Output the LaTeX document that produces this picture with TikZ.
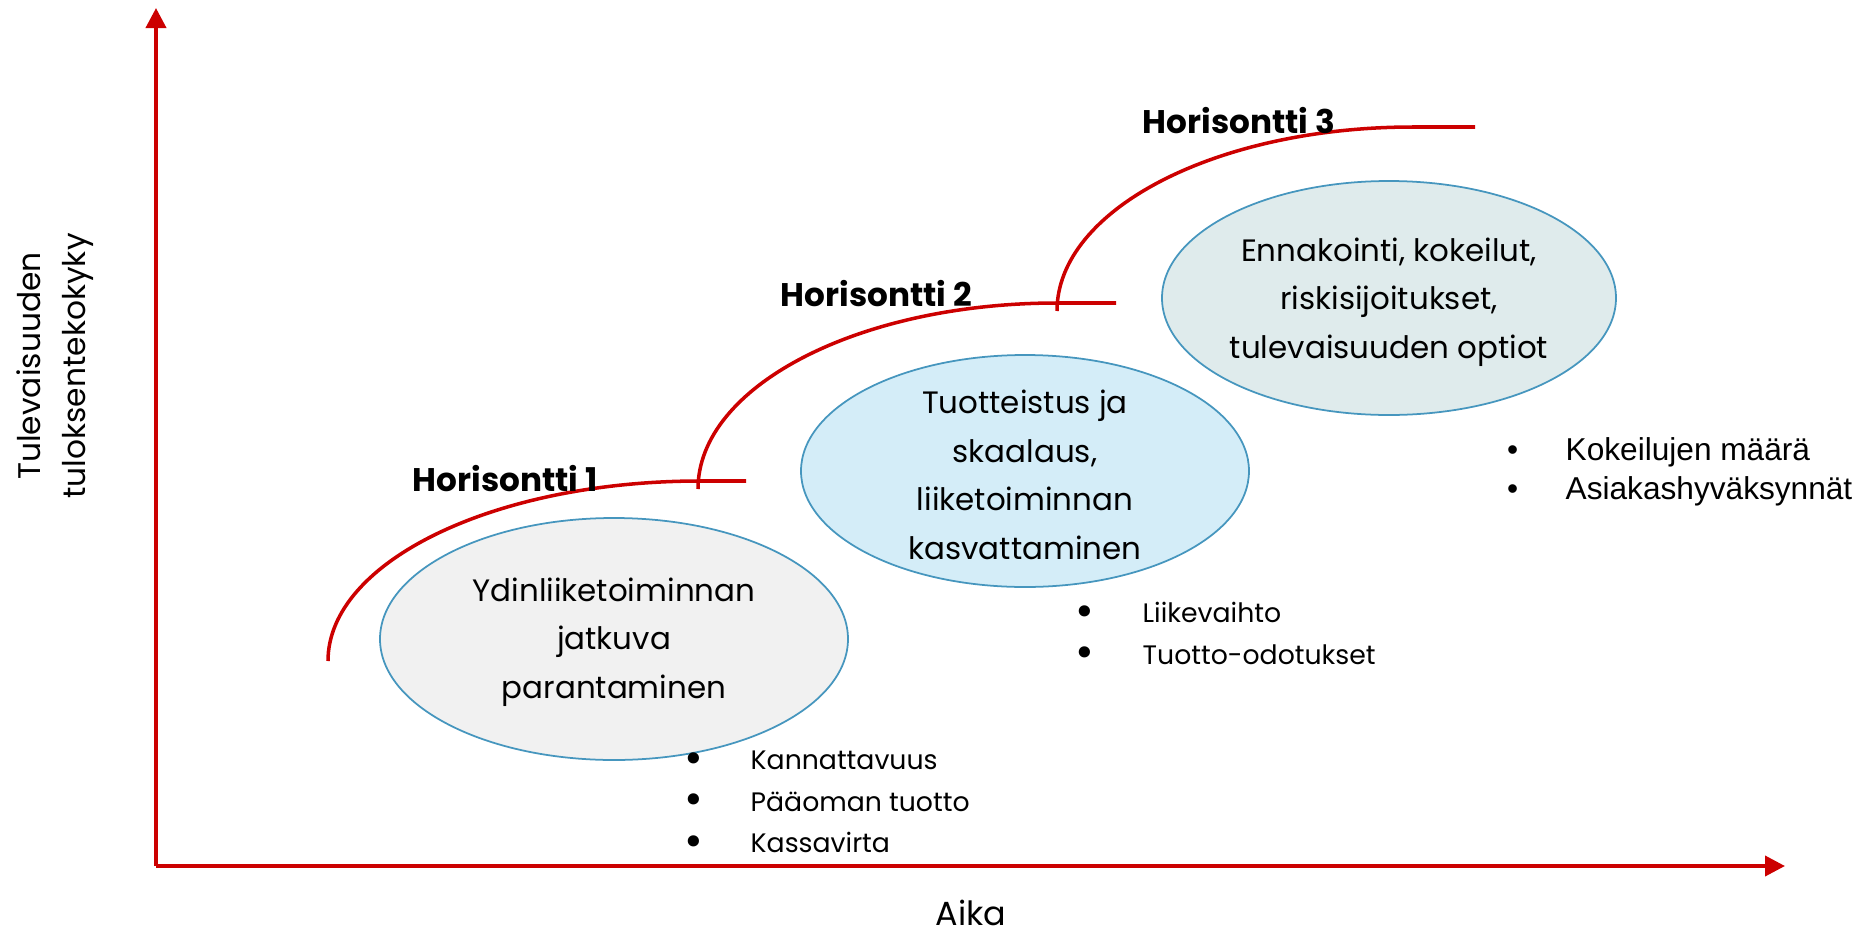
\documentclass[tikz,border=0pt]{standalone}
\usepackage{fontspec}
\setmainfont{Poppins}
\newfontfamily\arialfont{Liberation Sans}
\usepackage{array}
\usepackage{graphicx}
\usepackage{tikz}
\usetikzlibrary{arrows.meta,shapes.geometric}

\definecolor{axisred}{RGB}{204,0,0}
\definecolor{rimblue}{RGB}{70,150,190}
\definecolor{coregray}{RGB}{241,241,241}
\definecolor{growblue}{RGB}{212,237,248}
\definecolor{futuregray}{RGB}{223,235,236}

% big round bullet for the measure lists
\newcommand{\mdot}{\raisebox{-0.25ex}{\scalebox{1.7}{\textbullet}}}

\begin{document}
\begin{tikzpicture}[x=0.1mm, y=-0.1mm,
	axis/.style={draw=axisred, line width=1.1pt, -{Triangle[length=2mm,width=2mm]}},
	horizon/.style={draw=axisred, line width=1pt},
	field/.style={ellipse, draw=rimblue, line width=0.5pt, inner sep=0pt},
	fieldtext/.style={align=center, font=\fontsize{8.8}{13.8}\selectfont},
	hlabel/.style={anchor=west, inner sep=0pt, font=\fontsize{9.3}{11}\selectfont\bfseries},
	metrics/.style={anchor=west, inner sep=0pt, font=\fontsize{7.6}{11.8}\selectfont}]
	\useasboundingbox (0,0) rectangle (1862,937);

	% Draw axes
	\coordinate (origin) at (156,866);
	\coordinate (ytip) at (156,8);
	\coordinate (xtip) at (1785,866);
	\draw[axis] (origin) -- (ytip);
	\draw[axis] (origin) -- (xtip);
	%Y
	\node[rotate=90, align=center, font=\fontsize{8.9}{12.8}\selectfont] (ylabel) at (55,366) {Tulevaisuuden\\tuloksentekokyky};
	%X
	\node[anchor=base, inner sep=0pt, font=\fontsize{9.5}{11}\selectfont] (xlabel) at (971,925) {Aika};

	% Fields behind the curves
	\node[field, fill=coregray, minimum width=46.8mm, minimum height=24.2mm] (core) at (614,639) {};
	\node[field, fill=growblue, minimum width=44.8mm, minimum height=23.2mm] (grow) at (1025,471) {};
	\node[field, fill=futuregray, minimum width=45.4mm, minimum height=23.4mm] (future) at (1389,298) {};
	\node[fieldtext] (coretext) at (614,642) {Ydinliiketoiminnan\\jatkuva\\parantaminen};
	\node[fieldtext] (growtext) at (1025,475) {Tuotteistus ja\\skaalaus,\\liiketoiminnan\\kasvattaminen};
	\node[fieldtext] (futuretext) at (1389,302) {Ennakointi, kokeilut,\\riskisijoitukset,\\tulevaisuuden optiot};

	% Horizon curves
	\draw[horizon] (328,661) arc[start angle=180, end angle=270, x radius=372, y radius=180] -- (746,481);
	\draw[horizon] (698,489) arc[start angle=180, end angle=270, x radius=359, y radius=186] -- (1116,303);
	\draw[horizon] (1057,311) arc[start angle=180, end angle=270, x radius=356, y radius=184] -- (1475,127);
	\node[hlabel] (h1) at (412,479) {Horisontti 1};
	\node[hlabel] (h2) at (780,294) {Horisontti 2};
	\node[hlabel] (h3) at (1142,121) {Horisontti 3};

	% Measures
	\node[metrics] (m1) at (636,803) {\begin{tabular}{@{}w{c}{11.4mm}@{}l@{}}
		\mdot & Kannattavuus\\
		\mdot & Pääoman tuotto\\
		\mdot & Kassavirta
	\end{tabular}};
	\node[metrics] (m2) at (1026,635) {\begin{tabular}{@{}w{c}{11.6mm}@{}l@{}}
		\mdot & Liikevaihto\\
		\mdot & Tuotto-odotukset
	\end{tabular}};
	\node[metrics, font=\arialfont\fontsize{9}{11.3}\selectfont] (m3) at (1459,472) {\begin{tabular}{@{}w{c}{10.6mm}@{}l@{}}
		\textbullet & Kokeilujen määrä\\
		\textbullet & Asiakashyväksynnät
	\end{tabular}};

\end{tikzpicture}
\end{document}
